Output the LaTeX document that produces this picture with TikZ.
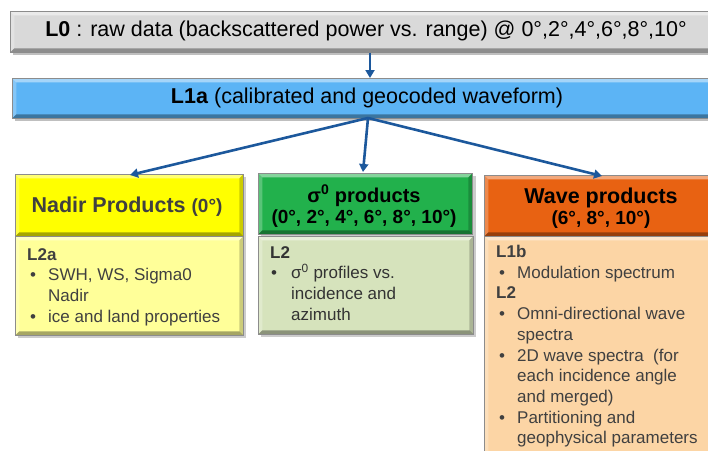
\documentclass[tikz,border=0pt]{standalone}
\usepackage{fontspec}
\setmainfont{Liberation Sans}
\usetikzlibrary{arrows.meta}
\definecolor{grayf}{RGB}{217,217,217}
\definecolor{bluef}{RGB}{92,180,245}
\definecolor{yelh}{RGB}{255,255,0}
\definecolor{yelb}{RGB}{255,255,153}
\definecolor{greh}{RGB}{34,177,76}
\definecolor{greb}{RGB}{214,227,188}
\definecolor{orah}{RGB}{232,98,18}
\definecolor{orab}{RGB}{252,213,165}
\definecolor{arrc}{RGB}{28,88,156}
\definecolor{txtc}{RGB}{64,64,64}
\tikzset{
  bevel/.style={path picture={
    \fill[white,opacity=.45] (path picture bounding box.north west) -- (path picture bounding box.north east) -- ([xshift=-4pt,yshift=-4pt]path picture bounding box.north east) -- ([xshift=4pt,yshift=-4pt]path picture bounding box.north west) -- cycle;
    \fill[white,opacity=.25] (path picture bounding box.north west) -- (path picture bounding box.south west) -- ([xshift=4pt,yshift=4pt]path picture bounding box.south west) -- ([xshift=4pt,yshift=-4pt]path picture bounding box.north west) -- cycle;
    \fill[black,opacity=.35] (path picture bounding box.south west) -- (path picture bounding box.south east) -- ([xshift=-4pt,yshift=4pt]path picture bounding box.south east) -- ([xshift=4pt,yshift=4pt]path picture bounding box.south west) -- cycle;
    \fill[black,opacity=.2] (path picture bounding box.north east) -- (path picture bounding box.south east) -- ([xshift=-4pt,yshift=4pt]path picture bounding box.south east) -- ([xshift=-4pt,yshift=-4pt]path picture bounding box.north east) -- cycle;
  }},
  box/.style={rectangle, anchor=north west, inner sep=0pt, draw=black!45, line width=0.5pt, bevel},
  bodytxt/.style={anchor=north west, inner sep=0pt, align=left, text=txtc, font=\fontsize{17}{20.7}\selectfont},
  toptxt/.style={font=\fontsize{21.5}{24}\selectfont, text=black},
  arr/.style={draw=arrc, line width=2.6pt, -{Triangle[length=8pt,width=9pt]}},
}
\newcommand{\bul}{\hspace*{3pt}\makebox[18pt][l]{•}}
\newcommand{\ind}{\hspace*{21pt}}
\begin{document}
\begin{tikzpicture}[x=1pt,y=-1pt]
\useasboundingbox (0,0) rectangle (708,450);
% shadows
\fill[black!25] (13,14) rectangle (712,55);
\fill[black!25] (15,81) rectangle (712,121);
% top boxes
\node[box, fill=grayf, minimum width=702pt, minimum height=41pt] (l0) at (10,11) {};
\node[toptxt] (l0t) at (366,31) {\textbf{L0} : raw data (backscattered power vs. range) @ 0°,2°,4°,6°,8°,10°};
\node[box, fill=bluef, minimum width=700pt, minimum height=40pt] (l1) at (12,78) {};
\node[toptxt] (l1t) at (367,98) {\textbf{L1a} (calibrated and geocoded waveform)};
% product boxes
\fill[black!20] (18,177) rectangle (246,338);
\fill[black!20] (261,176) rectangle (476,337);
\node[box, fill=yelb, minimum width=228pt, minimum height=99pt] (nb) at (15,236) {};
\node[box, fill=yelh, minimum width=228pt, minimum height=62pt] (nh) at (15,174) {};
\node[font=\bfseries, text=txtc] (nht) at (127,207) {\fontsize{21.5}{24}\selectfont Nadir Products \fontsize{19}{22}\selectfont(0°)};
\node[bodytxt] (nbt) at (27,248) {\textbf{L2a}\\ \bul SWH, WS, Sigma0\\ \ind Nadir\\ \bul ice and land properties};

\node[box, fill=greb, minimum width=215pt, minimum height=98pt] (sb) at (258,236) {};
\node[box, fill=greh, minimum width=214pt, minimum height=61pt] (sh) at (258,173) {};
\node[font=\bfseries, text=black, align=center] (sht) at (364,206) {\fontsize{20}{25}\selectfont σ\textsuperscript{0} products\\[2pt] \fontsize{19}{25}\selectfont (0°, 2°, 4°, 6°, 8°, 10°)};
\node[bodytxt, text=black!80] (sbt) at (270,246) {\textbf{L2}\\ \hspace*{1pt}\makebox[20pt][l]{•}σ\textsuperscript{0} profiles vs.\\ \hspace*{21pt}incidence and\\ \hspace*{21pt}azimuth};

\node[box, fill=orab, minimum width=230pt, minimum height=220pt] (wb) at (484,236) {};
\node[box, fill=orah, minimum width=230pt, minimum height=61pt] (wh) at (484,175) {};
\node[font=\bfseries, text=black, align=center] (wht) at (601,208) {\fontsize{21.5}{25}\selectfont Wave products\\[2pt] \fontsize{19}{25}\selectfont (6°, 8°, 10°)};
\node[bodytxt] (wbt) at (496,245) {\textbf{L1b}\\ \bul Modulation spectrum\\ \textbf{L2}\\ \bul Omni-directional wave\\ \ind spectra\\ \bul 2D wave spectra~ (for\\ \ind each incidence angle\\ \ind and merged)\\ \bul Partitioning and\\ \ind geophysical parameters};
% connectors
\coordinate (src) at (368,118);
\draw[arr] (l0.south -| 370,0) -- (l1.north -| 370,0);
\draw[arr] (src) -- (130,175);
\draw[arr] (src) -- (363,172);
\draw[arr] (src) -- (602,176);
\end{tikzpicture}
\end{document}
